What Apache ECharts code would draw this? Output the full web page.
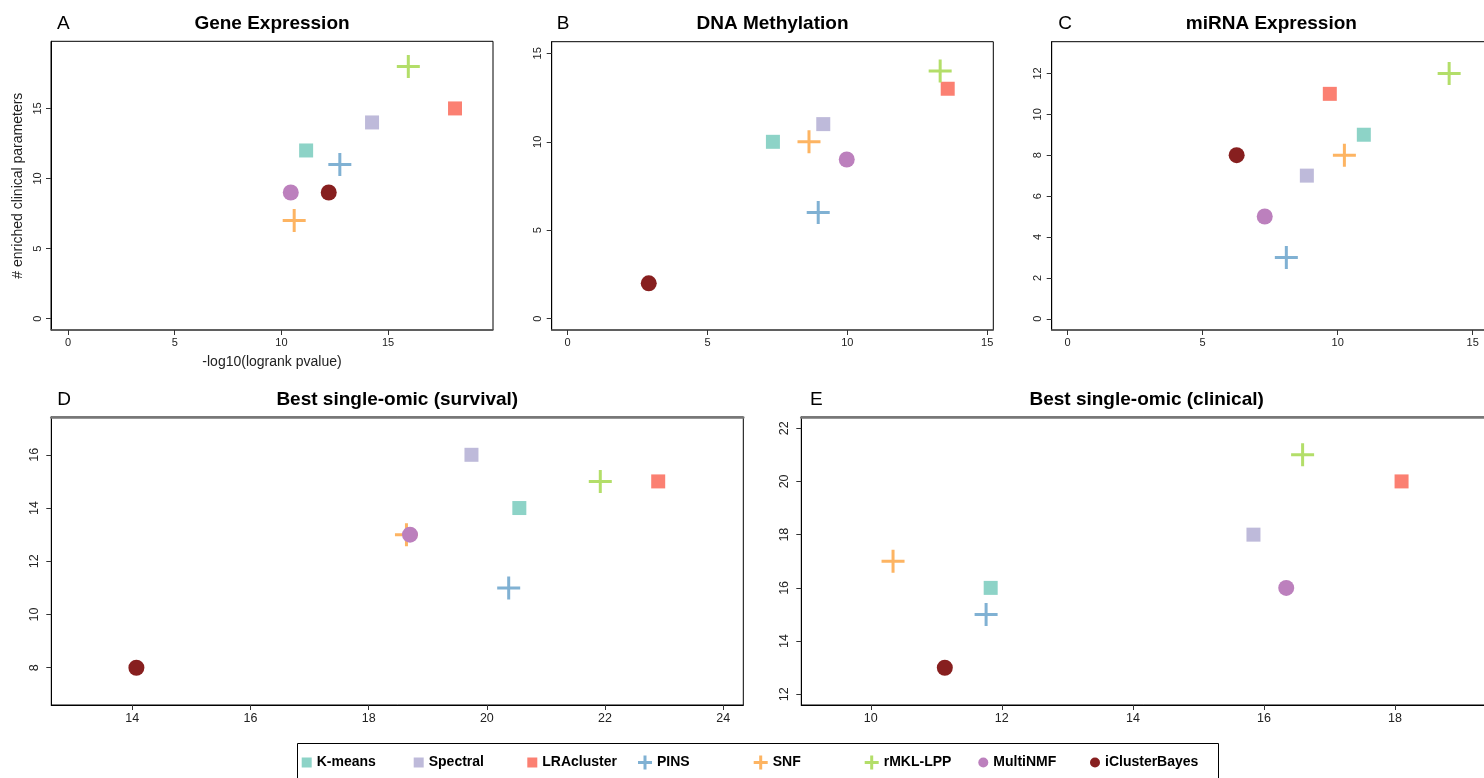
<!DOCTYPE html>
<html>
<head>
<meta charset="utf-8">
<script src="https://cdn.jsdelivr.net/npm/echarts@6/dist/echarts.min.js"></script>
<style>
  html, body { margin: 0; padding: 0; background: #fff; }
  #chart { width: 1484px; height: 778px; }
</style>
</head>
<body>
<div id="chart"></div>
<script>
// ---------------- DATA ----------------
const methods = ['K-means', 'Spectral', 'LRAcluster', 'PINS', 'SNF', 'rMKL-LPP', 'MultiNMF', 'iClusterBayes'];
const methodColors = ['#8DD3C7', '#BEBADA', '#FB8072', '#80B1D3', '#FDB462', '#B3DE69', '#BC80BD', '#871F1F'];
const methodShapes = ['square', 'square', 'square', 'cross', 'cross', 'cross', 'circle', 'circle'];

const panelTitles = ['Gene Expression', 'DNA Methylation', 'miRNA Expression', 'Best single-omic (survival)', 'Best single-omic (clinical)'];
const panelLetters = ['A', 'B', 'C', 'D', 'E'];

// -log10(logrank pvalue) per method (order as in methods)
const geneX  = [11.16, 14.25, 18.14, 12.74, 10.60, 15.95, 10.44, 12.22];
const geneY  = [12, 14, 15, 11, 7, 18, 9, 9];
const methX  = [7.34, 9.14, 13.59, 8.96, 8.63, 13.32, 9.98, 2.90];
const methY  = [10, 11, 13, 6, 10, 14, 9, 2];
const mirnaX = [10.97, 8.86, 9.71, 8.10, 10.25, 14.13, 7.30, 6.26];
const mirnaY = [9, 7, 11, 3, 8, 12, 5, 8];
const survX  = [20.55, 19.74, 22.90, 20.37, 18.64, 21.92, 18.70, 14.07];
const survY  = [14, 16, 15, 11, 13, 15, 13, 8];
const clinX  = [11.83, 15.84, 18.10, 11.76, 10.34, 16.59, 16.34, 11.13];
const clinY  = [16, 18, 20, 15, 17, 21, 16, 13];

// tick labels
const ticksAX = [0, 5, 10, 15];
const ticksAY = [0, 5, 10, 15];
const ticksBX = [0, 5, 10, 15];
const ticksBY = [0, 5, 10, 15];
const ticksCX = [0, 5, 10, 15];
const ticksCY = [0, 2, 4, 6, 8, 10, 12];
const ticksDX = [14, 16, 18, 20, 22, 24];
const ticksDY = [8, 10, 12, 14, 16];
const ticksEX = [10, 12, 14, 16, 18];
const ticksEY = [12, 14, 16, 18, 20, 22];

const xAxisName = '-log10(logrank pvalue)';
const yAxisName = '# enriched clinical parameters';

// ---------------- LAYOUT ----------------
const FONT = '"Liberation Sans", Arial, Helvetica, sans-serif';
const panels = [
  { xs: geneX,  ys: geneY,  tx: ticksAX, ty: ticksAY, grid: {left: 51,    top: 41.3, width: 442,   height: 288.7}, xr: [-0.80, 19.92], yr: [-0.81, 19.79], small: true,  names: true,  grayTop: false },
  { xs: methX,  ys: methY,  tx: ticksBX, ty: ticksBY, grid: {left: 551.7, top: 41.7, width: 441.6, height: 288.3}, xr: [-0.57, 15.22], yr: [-0.64, 15.66], small: true,  names: false, grayTop: false },
  { xs: mirnaX, ys: mirnaY, tx: ticksCX, ty: ticksCY, grid: {left: 1051.7,top: 41.7, width: 439.3, height: 288.3}, xr: [-0.59, 15.68], yr: [-0.55, 13.55], small: true,  names: false, grayTop: false },
  { xs: survX,  ys: survY,  tx: ticksDX, ty: ticksDY, grid: {left: 51.3,  top: 417,  width: 692,   height: 288},   xr: [12.63, 24.34], yr: [6.60, 17.42],  small: false, names: false, grayTop: true },
  { xs: clinX,  ys: clinY,  tx: ticksEX, ty: ticksEY, grid: {left: 801.3, top: 417,  width: 690.7, height: 288},   xr: [8.94, 19.48],  yr: [11.60, 22.42], small: false, names: false, grayTop: true }
];

const CROSS = 'path://M10,0h3v23h-3z M0,10h23v3h-23z';
const CROSS_LEG = 'path://M5.5,0h3v14h-3z M0,5.5h14v3h-14z';
function symbolOf(shape) { return shape === 'square' ? 'rect' : (shape === 'cross' ? CROSS : 'circle'); }
function sizeOf(shape) { return shape === 'square' ? 14 : (shape === 'cross' ? 23 : 16); }

const grids = [], xAxes = [], yAxes = [], series = [], graphics = [];

panels.forEach((p, k) => {
  grids.push(Object.assign({ show: true, borderColor: '#000', borderWidth: 1, backgroundColor: '#fff', containLabel: false, outerBoundsMode: 'none' }, p.grid));
  const fs = p.small ? 11 : 12.5;
  xAxes.push({
    type: 'value', gridIndex: k, min: p.xr[0], max: p.xr[1], position: 'bottom',
    axisLine: { show: true, onZero: false, lineStyle: { color: p.small ? '#555' : '#000', width: p.small ? 1.5 : 1.2 } },
    axisTick: { show: true, length: 5, lineStyle: { color: '#333' }, customValues: p.tx },
    axisLabel: { show: true, customValues: p.tx, margin: 7, fontSize: fs, color: '#222', fontFamily: FONT },
    splitLine: { show: false },
    name: p.names ? xAxisName : '', nameLocation: 'middle', nameGap: 25,
    nameTextStyle: { fontSize: 14, color: '#222', fontFamily: FONT }
  });
  yAxes.push({
    type: 'value', gridIndex: k, min: p.yr[0], max: p.yr[1], position: 'left',
    axisLine: { show: true, onZero: false, lineStyle: { color: '#000', width: 1 } },
    axisTick: { show: true, length: 5, lineStyle: { color: '#333' }, customValues: p.ty },
    axisLabel: { show: true, customValues: p.ty, rotate: 90, margin: p.small ? 8 : 10, fontSize: fs, color: '#222', fontFamily: FONT },
    splitLine: { show: false },
    name: p.names ? yAxisName : '', nameLocation: 'middle', nameGap: 26,
    nameTextStyle: { fontSize: 14, color: '#222', fontFamily: FONT }
  });
  methods.forEach((m, i) => {
    series.push({
      type: 'scatter', name: m, xAxisIndex: k, yAxisIndex: k,
      data: [[p.xs[i], p.ys[i]]],
      symbol: symbolOf(methodShapes[i]), symbolSize: sizeOf(methodShapes[i]),
      itemStyle: { color: methodColors[i], opacity: 1 },
      emphasis: { disabled: true },
      z: 2 + i * 0.01, animation: false
    });
  });
  // title & letter
  const cx = p.grid.left + p.grid.width / 2;
  const ty = k < 3 ? 24 : 400;
  graphics.push({ type: 'text', silent: true, style: { text: panelTitles[k], x: cx, y: ty, align: 'center', verticalAlign: 'middle', textAlign: 'center', textVerticalAlign: 'middle', font: 'bold 19px ' + FONT, fill: '#000' } });
  const lx = [57, 556.7, 1058.3, 57.3, 810][k];
  graphics.push({ type: 'text', silent: true, style: { text: panelLetters[k], x: lx, y: ty, align: 'left', verticalAlign: 'middle', textAlign: 'left', textVerticalAlign: 'middle', font: '19px ' + FONT, fill: '#000' } });
});

// gray top frame lines for D and E
panels.forEach((p, k) => {
  if (!p.grayTop) return;
  xAxes.push({
    type: 'value', gridIndex: k, min: p.xr[0], max: p.xr[1], position: 'top',
    axisLine: { show: true, onZero: false, lineStyle: { color: '#777', width: 2.5 } },
    axisTick: { show: false }, axisLabel: { show: false }, splitLine: { show: false }
  });
});

// legend box
graphics.push({ type: 'rect', silent: true, shape: { x: 297.5, y: 743.5, width: 921, height: 60 }, style: { fill: 'none', stroke: '#000', lineWidth: 1 } });

// legends, one per item
const legendSymbolCenters = [306.7, 418.7, 532.3, 645, 760.7, 871.7, 983.3, 1095];
const legends = methods.map((m, i) => {
  const shape = methodShapes[i];
  const w = shape === 'cross' ? 14 : 10;
  return {
    data: [{ name: m, icon: shape === 'square' ? 'rect' : (shape === 'cross' ? CROSS_LEG : 'circle') }],
    left: legendSymbolCenters[i] - w / 2, top: 755.5, padding: 0,
    itemWidth: w, itemHeight: w, itemGap: 0, selectedMode: false,
    textStyle: { fontSize: 14, fontWeight: 'bold', color: '#000', fontFamily: FONT }
  };
});

const chart = echarts.init(document.getElementById('chart'), null, { renderer: 'canvas' });
chart.setOption({
  animation: false,
  backgroundColor: '#fff',
  grid: grids,
  xAxis: xAxes,
  yAxis: yAxes,
  series: series,
  legend: legends,
  graphic: graphics
});
</script>
</body>
</html>
